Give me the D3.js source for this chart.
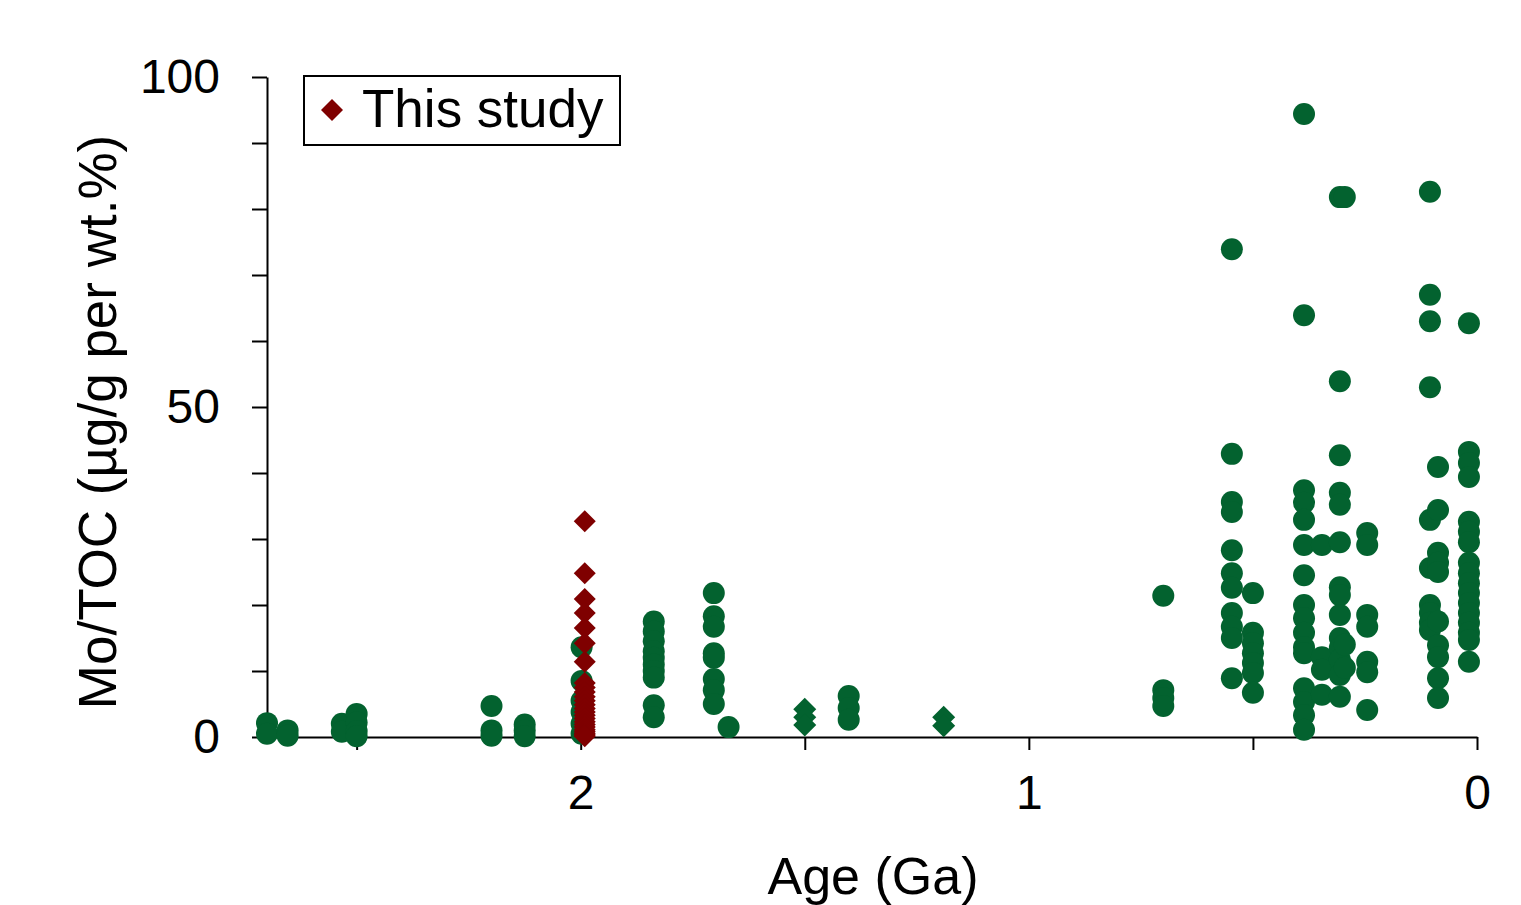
<!DOCTYPE html>
<html>
<head>
<meta charset="utf-8">
<script src="https://cdn.jsdelivr.net/npm/d3@7"></script>
<style>
  body { margin: 0; background: #fff; }
  text { font-family: "Liberation Sans", Arial, sans-serif; fill: #000; }
</style>
</head>
<body>
<div id="chart"></div>
<script>
// literature compilation, circles (age in Ga, Mo/TOC)
const circleColumns = [
  { age: 2.70, moToc: [2.1, 0.5] },
  { age: 2.654, moToc: [1.0, 0.2] },
  { age: 2.533, moToc: [2.0, 0.8] },
  { age: 2.50, moToc: [3.5, 2.2, 0.9, 0.1] },
  { age: 2.199, moToc: [4.7, 1.0, 0.2] },
  { age: 2.125, moToc: [1.9, 1.0, 0.1] },
  { age: 1.998, moToc: [13.6, 8.5, 5.5, 3.8, 2.0, 0.5] },
  { age: 1.837, moToc: [17.5, 16.0, 14.5, 13.0, 12.0, 11.0, 10.0, 9.0, 4.8, 3.0] },
  { age: 1.703, moToc: [21.8, 18.3, 16.7, 12.7, 12.0, 8.8, 7.1, 5.0] },
  { age: 1.670, moToc: [1.5] },
  { age: 1.402, moToc: [6.2, 4.4, 2.6] },
  { age: 0.70, moToc: [21.4, 7.1, 5.9, 4.7] },
  { age: 0.547, moToc: [73.9, 42.9, 35.6, 34.1, 28.3, 24.8, 22.6, 18.8, 16.7, 15.0, 8.9] },
  { age: 0.50, moToc: [21.8, 15.8, 14.2, 12.7, 11.2, 9.7, 6.7] },
  { age: 0.386, moToc: [94.4, 63.9, 37.4, 35.5, 32.9, 29.1, 24.5, 20.0, 18.0, 15.8, 13.6, 12.7, 7.4, 5.3, 3.3, 1.1] },
  { age: 0.346, moToc: [29.1, 12.1, 10.2, 6.4] },
  { age: 0.306, moToc: [81.8, 53.9, 42.7, 37.0, 35.2, 29.5, 22.7, 21.5, 18.5, 15.0, 13.5, 11.7, 9.4, 6.1] },
  { age: 0.295, moToc: [81.8, 14.0, 10.5] },
  { age: 0.245, moToc: [30.9, 29.1, 18.5, 16.7, 11.4, 9.8, 4.1] },
  { age: 0.105, moToc: [82.6, 67.0, 63.0, 53.0, 32.9, 25.6, 20.0, 18.8, 17.3, 16.2] },
  { age: 0.087, moToc: [40.9, 34.4, 27.9, 26.4, 25.0, 17.5, 13.9, 12.1, 8.9, 5.9] },
  { age: 0.018, moToc: [62.7, 43.2, 41.5, 39.4, 32.6, 31.1, 29.5, 26.4, 24.8, 23.3, 21.8, 20.3, 18.8, 17.3, 15.8, 14.7, 11.4] }
];

// literature compilation, diamonds
const diamondColumns = [
  { age: 1.50, moToc: [4.2, 3.0, 1.8] },
  { age: 1.190, moToc: [3.0, 1.7] }
];

// this study
const studyAge = 1.991;
const studyMoToc = [32.7, 24.8, 20.9, 18.8, 16.5, 14.2, 11.4,
  8.2, 7.5, 6.8, 6.1, 5.5, 4.9, 4.3, 3.8, 3.3, 2.8, 2.3, 1.9, 1.5, 1.1, 0.8, 0.5, 0.3, 0.1];

const xTicks = [2.5, 2, 1.5, 1, 0.5, 0];
const xLabels = [2, 1, 0];
const yTicks = d3.range(0, 101, 10);
const yLabels = [0, 50, 100];

const width = 1521, height = 905;
const margin = { top: 77, right: 44, bottom: 168, left: 267 };
const green = '#03622f', red = '#7f0000';

const svg = d3.select('#chart').append('svg')
  .attr('width', width)
  .attr('height', height);

const x = d3.scaleLinear().domain([2.7, 0]).range([margin.left, width - margin.right]);
const y = d3.scaleLinear().domain([0, 100]).range([height - margin.bottom, margin.top]);

// y axis
const yAxis = svg.append('g').attr('transform', `translate(${margin.left},0)`)
  .call(d3.axisLeft(y).tickValues(yTicks).tickSize(15).tickSizeOuter(0)
    .tickFormat(d => yLabels.includes(d) ? d : ''));
// x axis
const xAxis = svg.append('g').attr('transform', `translate(0,${y(0)})`)
  .call(d3.axisBottom(x).tickValues(xTicks).tickSize(13).tickSizeOuter(0)
    .tickFormat(d => xLabels.includes(d) ? d : ''));

[yAxis, xAxis].forEach(g => {
  g.select('.domain').attr('stroke', '#000').attr('stroke-width', 2);
  g.selectAll('.tick line').attr('stroke', '#000').attr('stroke-width', 2);
  g.selectAll('.tick text').style('font-size', '48px').attr('fill', '#000');
});
yAxis.selectAll('.tick text').attr('x', -47).attr('dy', '0.33em');
xAxis.selectAll('.tick text').attr('y', 38).attr('dy', '0.71em');

// axis titles
svg.append('text')
  .attr('transform', 'translate(116,422) rotate(-90)')
  .attr('text-anchor', 'middle')
  .style('font-size', '53px')
  .text('Mo/TOC (µg/g per wt.%)');

svg.append('text')
  .attr('x', 873).attr('y', 894)
  .attr('text-anchor', 'middle')
  .style('font-size', '52px')
  .text('Age (Ga)');

const flat = cols => cols.flatMap(c => c.moToc.map(v => ({ age: c.age, v })));
const diamond = h => `M0,${-h}L${h},0L0,${h}L${-h},0Z`;

svg.append('g').selectAll('circle')
  .data(flat(circleColumns))
  .join('circle')
  .attr('cx', d => x(d.age))
  .attr('cy', d => y(d.v))
  .attr('r', 11)
  .attr('fill', green);

svg.append('g').selectAll('path')
  .data(flat(diamondColumns))
  .join('path')
  .attr('d', diamond(11.5))
  .attr('transform', d => `translate(${x(d.age)},${y(d.v)})`)
  .attr('fill', green);

svg.append('g').selectAll('path')
  .data(studyMoToc)
  .join('path')
  .attr('d', diamond(11))
  .attr('transform', d => `translate(${x(studyAge)},${y(d)})`)
  .attr('fill', red);

// legend
const legend = svg.append('g');
legend.append('rect')
  .attr('x', 304).attr('y', 76).attr('width', 316).attr('height', 69)
  .attr('fill', '#fff').attr('stroke', '#000').attr('stroke-width', 2);
legend.append('path')
  .attr('d', diamond(11))
  .attr('transform', 'translate(332,110)')
  .attr('fill', red);
legend.append('text')
  .attr('x', 362).attr('y', 127)
  .style('font-size', '53px')
  .text('This study');
</script>
</body>
</html>
